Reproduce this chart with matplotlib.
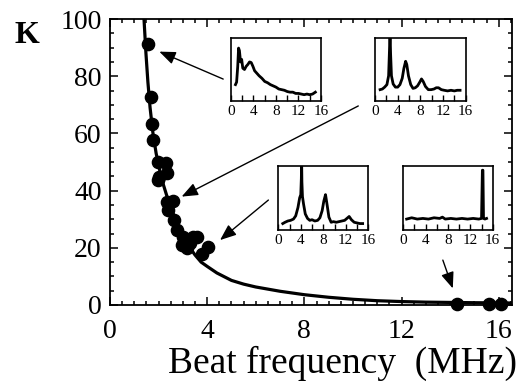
import numpy as np
import matplotlib
matplotlib.use('Agg')
import matplotlib.pyplot as plt
from matplotlib.ticker import MultipleLocator

plt.rcParams['font.family'] = ['Liberation Serif', 'DejaVu Serif']

# measured coupling K vs beat frequency
beat_f = [1.55, 1.70, 1.71, 1.76, 1.99, 2.31, 2.03, 2.33, 1.99, 2.33, 2.61, 2.40,
          2.63, 2.77, 3.02, 3.43, 3.57, 2.95, 3.29, 3.16, 3.77, 4.05, 14.3, 15.6, 16.1]
k_val = [91.3, 72.6, 63.3, 57.7, 50.1, 49.8, 44.9, 46.0, 43.7, 36.1, 36.5, 33.2,
         29.7, 26.2, 23.9, 23.9, 23.7, 21.0, 21.6, 19.8, 17.8, 20.4, 0.5, 0.5, 0.5]

# fitted curve
fit_f = [1.40, 1.48, 1.56, 1.65, 1.77, 1.90, 2.05, 2.2, 2.4, 2.6, 2.8, 3.0, 3.25, 3.5,
         3.75, 4.0, 4.4, 5.0, 5.5, 6.0, 7.0, 8.0, 9.0, 10.0, 11.0, 12.0, 13.0, 14.0, 15.0, 16.55]
fit_k = [100, 88, 78, 69, 60, 53, 47, 42, 36.5, 32, 27.5, 24, 20.5, 17.5,
         15, 13.5, 11.2, 8.6, 7.3, 6.3, 4.8, 3.6, 2.7, 2.0, 1.5, 1.2, 1.0, 0.9, 0.8, 0.7]

# inset spectra (arb. units)
spec1_x = [0.8, 1.0, 1.2, 1.35, 1.5, 1.7, 1.9, 2.1, 2.4, 2.7, 3.0, 3.3, 3.6, 3.9, 4.2, 4.6,
           5.0, 5.5, 6.0, 6.5, 7.0, 7.5, 8.0, 8.5, 9.0, 9.5, 10, 10.5, 11, 11.5, 12, 12.5,
           13, 13.5, 14, 14.5, 15]
spec1_y = [0.26, 0.30, 0.55, 0.84, 0.80, 0.62, 0.66, 0.52, 0.50, 0.55, 0.58, 0.62, 0.61,
           0.55, 0.48, 0.44, 0.40, 0.36, 0.31, 0.29, 0.26, 0.24, 0.22, 0.19, 0.18, 0.17,
           0.15, 0.14, 0.14, 0.12, 0.12, 0.11, 0.10, 0.11, 0.10, 0.11, 0.14]

spec2_x = [0.9, 1.3, 1.7, 2.1, 2.4, 2.55, 2.65, 2.75, 2.9, 3.2, 3.6, 4.0, 4.4, 4.8, 5.1,
           5.4, 5.6, 5.9, 6.3, 6.7, 7.1, 7.5, 7.9, 8.2, 8.5, 8.9, 9.4, 9.9, 10.4, 10.8,
           11.2, 11.7, 12.2, 12.8, 13.4, 14, 14.5, 15]
spec2_y = [0.18, 0.19, 0.22, 0.26, 0.40, 0.80, 1.10, 0.75, 0.40, 0.27, 0.22, 0.22, 0.26,
           0.36, 0.52, 0.63, 0.58, 0.40, 0.26, 0.20, 0.21, 0.24, 0.30, 0.35, 0.31, 0.23,
           0.18, 0.18, 0.19, 0.21, 0.21, 0.18, 0.17, 0.16, 0.17, 0.16, 0.17, 0.17]

spec3_x = [0.8, 1.2, 1.7, 2.2, 2.7, 3.1, 3.5, 3.8, 4.0, 4.1, 4.15, 4.2, 4.3, 4.5, 4.8,
           5.2, 5.6, 6.0, 6.5, 7.0, 7.4, 7.8, 8.1, 8.4, 8.7, 9.0, 9.4, 9.8, 10.3, 10.8,
           11.3, 11.8, 12.2, 12.6, 13.0, 13.5, 14.0, 14.5, 15.0]
spec3_y = [0.10, 0.12, 0.14, 0.15, 0.17, 0.22, 0.35, 0.50, 0.55, 0.80, 1.10, 0.75, 0.52,
           0.40, 0.25, 0.18, 0.15, 0.16, 0.14, 0.15, 0.19, 0.30, 0.45, 0.55, 0.38, 0.20,
           0.12, 0.13, 0.12, 0.13, 0.14, 0.15, 0.18, 0.21, 0.16, 0.12, 0.11, 0.10, 0.10]

spec4_x = [0.6, 1.5, 2.5, 3.5, 4.5, 5.5, 6.5, 7.0, 7.5, 8.5, 9.5, 10.5, 11.5, 12.5, 13.5,
           14.0, 14.15, 14.25, 14.35, 14.6, 14.9]
spec4_y = [0.17, 0.19, 0.17, 0.18, 0.17, 0.19, 0.18, 0.20, 0.17, 0.18, 0.17, 0.18, 0.17,
           0.18, 0.17, 0.18, 0.93, 0.93, 0.18, 0.17, 0.18]

x_ticks = [0, 4, 8, 12, 16]
y_ticks = [0, 20, 40, 60, 80, 100]

fig = plt.figure(figsize=(5.22, 3.85), dpi=100)
ax = fig.add_axes([0.2107, 0.2078, 0.7703, 0.7428])

ax.plot(fit_f, fit_k, color='k', lw=2.3, zorder=2)
ax.plot(beat_f, k_val, 'o', color='k', ms=8.8, clip_on=False, zorder=3)

ax.set_xlim(0, 16.55)
ax.set_ylim(0, 100)
ax.set_xticks(x_ticks)
ax.set_yticks(y_ticks)
ax.xaxis.set_minor_locator(MultipleLocator(0.5))
ax.yaxis.set_minor_locator(MultipleLocator(5))
ax.tick_params(which='both', direction='in', top=True, right=True, width=1.1)
ax.tick_params(which='major', length=6)
ax.tick_params(which='minor', length=3)
ax.tick_params(axis='y', labelsize=20, pad=6)
ax.tick_params(axis='x', labelsize=20, pad=10)
for sp in ax.spines.values():
    sp.set_linewidth(1.3)

fig.text(342 / 522, 0.032, 'Beat frequency  (MHz)', fontsize=27, ha='center', va='baseline')
fig.text(27 / 522, 0.888, 'K', fontsize=23, fontweight='bold', ha='center', va='baseline')

# arrows pointing from insets to data
arr = dict(arrowstyle='-|>,head_length=0.7,head_width=0.28', color='k', lw=1.0,
           shrinkA=0, shrinkB=0, mutation_scale=14)
ax.annotate('', xy=(2.03, 88.6), xytext=(4.66, 79.0), arrowprops=arr)
ax.annotate('', xy=(2.95, 37.9), xytext=(10.22, 69.6), arrowprops=arr)
ax.annotate('', xy=(4.53, 22.7), xytext=(6.52, 36.7), arrowprops=arr)
ax.annotate('', xy=(14.11, 5.8), xytext=(13.70, 15.7), arrowprops=arr)

# insets
inset_pos = [[0.4425, 0.7377, 0.1724, 0.1636],
             [0.7184, 0.7377, 0.1738, 0.1636],
             [0.5331, 0.4026, 0.1724, 0.1670],
             [0.7726, 0.4026, 0.1713, 0.1670]]
spectra = [(spec1_x, spec1_y), (spec2_x, spec2_y), (spec3_x, spec3_y), (spec4_x, spec4_y)]

for pos, (sx, sy) in zip(inset_pos, spectra):
    ia = fig.add_axes(pos)
    ia.plot(sx, sy, color='k', lw=2.0)
    ia.set_xlim(0, 16)
    ia.set_ylim(0, 1)
    ia.set_xticks(x_ticks)
    ia.xaxis.set_minor_locator(MultipleLocator(2))
    ia.set_yticks([])
    ia.tick_params(which='both', direction='in', length=4, width=1, labelsize=11, pad=3)
    for sp in ia.spines.values():
        sp.set_linewidth(1.2)

fig.savefig('out.png', dpi=100)
